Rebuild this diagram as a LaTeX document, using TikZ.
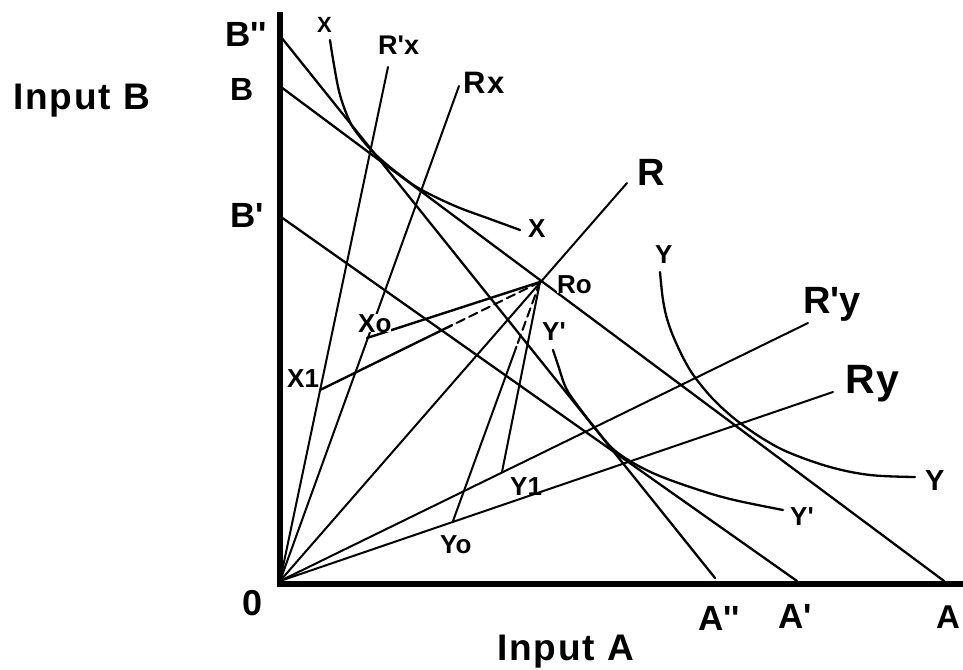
\documentclass[tikz,border=0pt]{standalone}
\usepackage{fontspec}
\setmainfont{Liberation Sans}
\newfontfamily\spaced[LetterSpace=5]{Liberation Sans}
\usetikzlibrary{calc}
\begin{document}
\begin{tikzpicture}[x=1pt,y=-1pt,line cap=round,line join=round,
  axisline/.style={line width=6pt,line cap=butt},
  isocost/.style={line width=2.3pt},
  rayline/.style={line width=2pt},
  isoquant/.style={line width=2.3pt},
  dashpart/.style={line width=2pt,dash pattern=on 9pt off 5pt},
  lbl/.style={inner sep=0pt,anchor=base west},
  biglbl/.style={lbl,font=\spaced\bfseries\fontsize{35}{35}\selectfont},
  smalllbl/.style={lbl,font=\bfseries\fontsize{26}{26}\selectfont},
]
\useasboundingbox (0,0) rectangle (963,669);
% points
\coordinate (O) at (280,581);
\coordinate (Vtop) at (280,12);
\coordinate (Vbot) at (280,587);
\coordinate (Hleft) at (277,584);
\coordinate (Hright) at (963,584);
\coordinate (Bpp) at (281,37);
\coordinate (Bb) at (281,87);
\coordinate (Bp) at (281,217);
\coordinate (App) at (715,578);
\coordinate (Ap) at (797,581);
\coordinate (Aa) at (944,581);
\coordinate (RpxE) at (388,67);
\coordinate (RxE) at (459,86);
\coordinate (RE) at (627,183);
\coordinate (RpyE) at (808,323);
\coordinate (RyE) at (833,392);
\coordinate (Ro) at (540,282);
\coordinate (X1) at (320,390);
\coordinate (Xo) at (367,338);
\coordinate (Y1) at (502,472);
\coordinate (Yo) at (453,521);
\coordinate (mX1) at ($(Ro)!0.4!(X1)$);
\coordinate (mYo) at ($(Ro)!0.27!(Yo)$);
% axes
\draw[axisline] (Vtop) -- (Vbot);
\draw[axisline] (Hleft) -- (Hright);
% isocost lines
\draw[isocost] (Bpp) -- (App);
\draw[isocost] (Bb) -- (Aa);
\draw[isocost] (Bp) -- (Ap);
% rays from origin
\draw[rayline] (O) -- (RpxE);
\draw[rayline] (O) -- (RxE);
\draw[rayline] (O) -- (RE);
\draw[rayline] (O) -- (RpyE);
\draw[rayline] (O) -- (RyE);
% lines from Ro
\draw[rayline,line width=2.4pt] (Ro) -- (Xo);
\draw[dashpart] (Ro) -- (mX1);
\draw[rayline,line width=2.4pt] (mX1) -- (X1);
\draw[rayline] (Ro) -- (Y1);
\draw[dashpart] (Ro) -- (mYo);
\draw[rayline] (mYo) -- (Yo);
% isoquants
\draw[isoquant] plot[smooth,tension=0.6] coordinates {(330,40) (334,65) (340,95) (350,122) (360,137) (372,151) (385,163) (400,175) (420,189) (455,206) (490,219) (520,230)};
\draw[isoquant] plot[smooth,tension=0.6] coordinates {(660,272) (663,300) (668,322) (677,345) (690,370) (705,390) (720,406) (740,423) (765,440) (790,453) (830,467) (870,475) (915,477)};
\draw[isoquant] plot[smooth,tension=0.6] coordinates {(553,350) (558,365) (566,388) (578,406) (595,428) (612,448) (630,461) (655,474) (690,487) (730,499) (783,510)};
% labels
\node[biglbl,font=\spaced\bfseries\fontsize{37}{37}\selectfont] (inB) at (13,109) {Input B};
\node[biglbl,font=\spaced\bfseries\fontsize{37}{37}\selectfont] (inA) at (497,660) {Input A};
\node[biglbl] (lBpp) at (225,47) {B\textquotesingle\textquotesingle};
\node[biglbl,font=\spaced\bfseries\fontsize{32}{32}\selectfont] (lBb) at (230,100) {B};
\node[biglbl] (lBp) at (230,227) {B\textquotesingle};
\node[biglbl,font=\bfseries\fontsize{36}{36}\selectfont] (lO) at (242,615) {0};
\node[biglbl] (lApp) at (698,630) {A\textquotesingle\textquotesingle};
\node[biglbl] (lAp) at (778,628) {A\textquotesingle};
\node[biglbl,font=\bfseries\fontsize{33}{33}\selectfont] (lAa) at (936,628) {A};
\node[biglbl,font=\spaced\bfseries\fontsize{27}{27}\selectfont] (lRpx) at (378,55) {R\textquotesingle x};
\node[biglbl,font=\spaced\bfseries\fontsize{31}{31}\selectfont] (lRx) at (463,93) {Rx};
\node[biglbl,font=\spaced\bfseries\fontsize{38}{38}\selectfont] (lR) at (637,185) {R};
\node[biglbl,font=\spaced\bfseries\fontsize{38}{38}\selectfont] (lRpy) at (803,313) {R\textquotesingle y};
\node[biglbl,font=\spaced\bfseries\fontsize{41}{41}\selectfont] (lRy) at (845,393) {Ry};
\node[smalllbl,font=\bfseries\fontsize{22}{22}\selectfont] (lXt) at (317,33) {X};
\node[smalllbl] (lXr) at (528,237) {X};
\node[smalllbl,fill=white] (lRo) at (557,293) {Ro};
\node[smalllbl] (lYt) at (655,263) {Y};
\node[smalllbl,font=\bfseries\fontsize{29}{29}\selectfont] (lYr) at (925,490) {Y};
\node[smalllbl] (lYpl) at (790,525) {Y\textquotesingle};
\node[smalllbl] (lYpu) at (542,340) {Y\textquotesingle};
\node[smalllbl,fill=white] (lXo) at (358,332) {Xo};
\node[smalllbl] (lX1) at (287,387) {X1};
\node[smalllbl] (lY1) at (510,495) {Y1};
\node[smalllbl] (lYo) at (440,553) {Yo};
\end{tikzpicture}
\end{document}
